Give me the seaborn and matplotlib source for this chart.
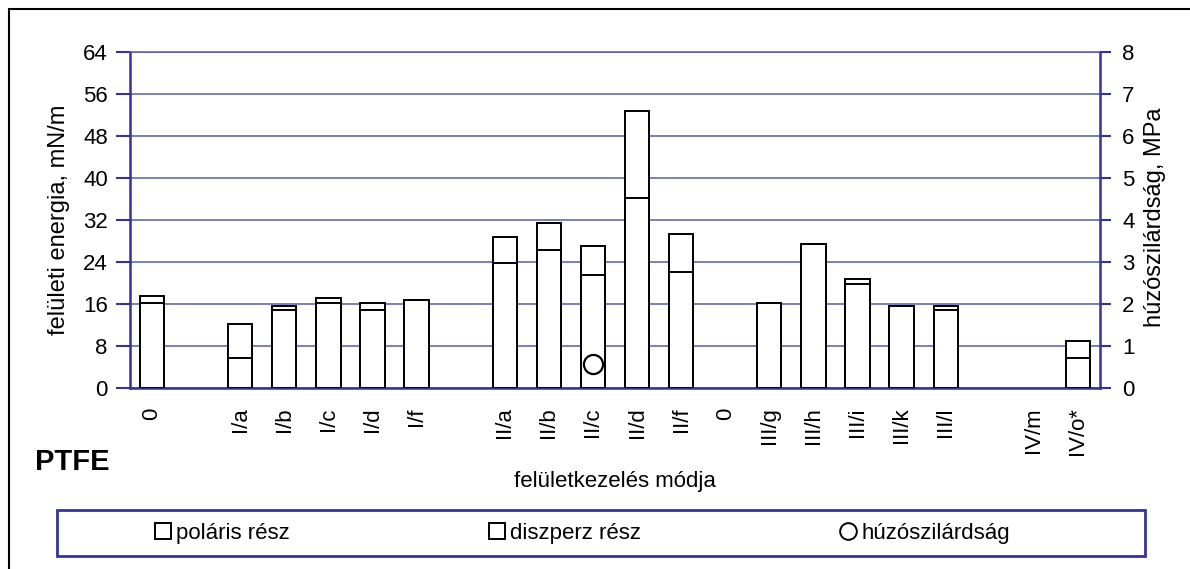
import numpy as np
import pandas as pd
import matplotlib
matplotlib.use("Agg")
import matplotlib.pyplot as plt
from matplotlib.patches import Rectangle
from matplotlib.lines import Line2D
import seaborn as sns

# ---- data ----
categories = ['0', '', 'I/a', 'I/b', 'I/c', 'I/d', 'I/f', '', 'II/a', 'II/b', 'II/c',
              'II/d', 'II/f', '0', 'III/g', 'III/h', 'III/i', 'III/k', 'III/l', '',
              'IV/m', 'IV/o*']
# lower segment of each bar
diszperz = [16.2, np.nan, 5.8, 14.9, 16.2, 14.9, 16.7, np.nan, 23.9, 26.2, 21.6,
            36.1, 22.1, np.nan, 16.2, 27.5, 19.8, 15.7, 14.9, np.nan, np.nan, 5.8]
# upper segment of each bar
polaris = [1.4, np.nan, 6.4, 0.8, 0.9, 1.3, 0.0, np.nan, 4.9, 5.3, 5.4,
           16.7, 7.3, np.nan, 0.0, 0.0, 1.0, 0.0, 0.8, np.nan, np.nan, 3.2]
huzoszilardsag = [np.nan] * 10 + [0.57] + [np.nan] * 11

left_ticks = [0, 8, 16, 24, 32, 40, 48, 56, 64]
right_ticks = [0, 1, 2, 3, 4, 5, 6, 7, 8]

# ---- style ----
sns.set_style("white")
plt.rcParams['font.family'] = ['Liberation Sans', 'DejaVu Sans']
plt.rcParams['text.color'] = 'black'
plt.rcParams['xtick.labelcolor'] = 'black'
plt.rcParams['ytick.labelcolor'] = 'black'
NAVY = '#333399'
GRID = '#5a5aaa'

W, H = 1190, 569
fig = plt.figure(figsize=(W / 100, H / 100), dpi=100)
ax = fig.add_axes([130 / W, 1 - 388 / H, 970 / W, 336 / H])

pos = list(range(len(categories)))
df = pd.DataFrame({'pos': pos, 'lower': diszperz, 'upper': polaris,
                   'tensile': huzoszilardsag})
df['total'] = df['lower'] + df['upper']
bars = df.dropna(subset=['lower'])

sns.barplot(data=bars, x='pos', y='total', order=pos, color='white', saturation=1,
            edgecolor='black', linewidth=1.4, width=0.55, errorbar=None, ax=ax, zorder=3)
sns.barplot(data=bars, x='pos', y='lower', order=pos, color='white', saturation=1,
            edgecolor='black', linewidth=1.4, width=0.55, errorbar=None, ax=ax, zorder=3)

ax.set_ylim(0, 64)
ax.set_xlim(-0.5, len(categories) - 0.5)
ax.set_yticks(left_ticks)
ax.set_yticklabels([str(t) for t in left_ticks], fontsize=16, color='black')
ax.set_xticks(pos)
ax.set_xticklabels(categories, rotation=90, fontsize=16, va='top', color='black')
ax.set_xticks(np.arange(-0.5, len(categories) + 0.5, 1), minor=True)
ax.tick_params(axis='x', which='major', length=0, pad=14)
ax.tick_params(axis='x', which='minor', length=9, width=1.5, color=NAVY, direction='out')
ax.tick_params(axis='y', which='major', length=10, width=1.5, color=NAVY, pad=6)
ax.set_xlabel('')
ax.set_ylabel('')
ax.grid(axis='y', color=GRID, linewidth=1.1, zorder=0)
ax.set_axisbelow(True)
for s in ['left', 'right', 'bottom', 'top']:
    ax.spines[s].set_color(NAVY)
    ax.spines[s].set_linewidth(1.8)
ax.spines['top'].set_linewidth(1.1)
ax.spines['top'].set_color(GRID)

ax2 = ax.twinx()
tens = df.dropna(subset=['tensile'])
sns.scatterplot(data=tens, x='pos', y='tensile', ax=ax2, marker='o', s=190,
                facecolor='white', edgecolor='black', linewidth=1.6, zorder=5)
ax2.set_ylim(0, 8)
ax2.set_xlim(-0.5, len(categories) - 0.5)
ax2.set_yticks(right_ticks)
ax2.set_yticklabels([str(t) for t in right_ticks], fontsize=16, color='black')
ax2.tick_params(axis='y', length=8, width=1.5, color=NAVY, pad=8)
ax2.set_ylabel('')
for s in ['left', 'right', 'bottom', 'top']:
    ax2.spines[s].set_visible(False)

# labels
fig.text(59 / W, 1 - 220 / H, 'felületi energia, mN/m', rotation=90, fontsize=17,
         ha='center', va='center', color='black')
fig.text(1155 / W, 1 - 217 / H, 'húzószilárdság, MPa', rotation=90, fontsize=17,
         ha='center', va='center', color='black')
fig.text(615 / W, 1 - 482 / H, 'felületkezelés módja', fontsize=16,
         ha='center', va='center', color='black')
fig.text(35 / W, 1 - 462 / H, 'PTFE', fontsize=21, fontweight='bold',
         ha='left', va='center', color='black')

# legend box
fig.add_artist(Rectangle((57 / W, 1 - 556 / H), (1145 - 57) / W, 46 / H,
                         transform=fig.transFigure, fill=False, edgecolor=NAVY,
                         linewidth=2))
handles = [
    Line2D([], [], linestyle='none', marker='s', markersize=12, markerfacecolor='white',
           markeredgecolor='black', markeredgewidth=1.4),
    Line2D([], [], linestyle='none', marker='s', markersize=12, markerfacecolor='white',
           markeredgecolor='black', markeredgewidth=1.4),
    Line2D([], [], linestyle='none', marker='o', markersize=12, markerfacecolor='white',
           markeredgecolor='black', markeredgewidth=1.4),
]
leg = fig.legend(handles, ['poláris rész', 'diszperz rész', 'húzószilárdság'], ncol=3,
                 loc='center', bbox_to_anchor=(582 / W, 1 - 533 / H), frameon=False,
                 fontsize=16, handlelength=0.8, handletextpad=0.2, columnspacing=8.9)
for t in leg.get_texts():
    t.set_color('black')

# outer frame
fig.add_artist(Rectangle((9 / W, -0.5), 2, 1 - 9 / H + 0.5, transform=fig.transFigure,
                         fill=False, edgecolor='black', linewidth=1.5))

fig.savefig('out.png', dpi=100)
